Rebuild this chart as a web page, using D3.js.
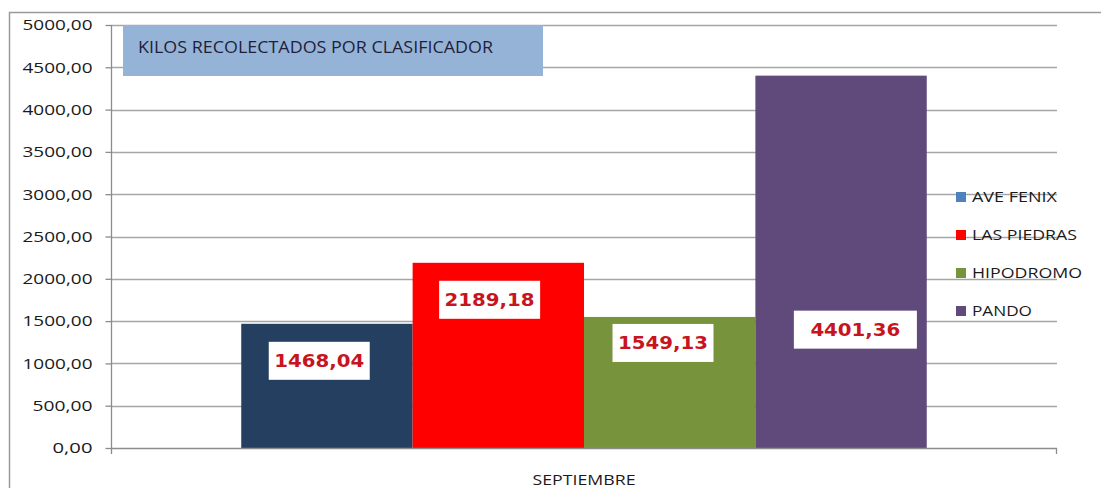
<!DOCTYPE html>
<html>
<head>
  <meta charset="utf-8" />
  <title>Kilos recolectados por clasificador</title>
  <script src="https://cdn.jsdelivr.net/npm/d3@7"></script>
  <style>
    body { margin: 0; background: #fff; }
    svg text { font-family: "Open Sans", sans-serif; }
  </style>
</head>
<body>
  <div id="chart"></div>
  <script type="text/javascript">

    // data
    var categories = ["SEPTIEMBRE"];
    var seriesNames = ["AVE FENIX", "LAS PIEDRAS", "HIPODROMO", "PANDO"];
    var values = [1468.04, 2189.18, 1549.13, 4401.36];
    var yTicks = [0, 500, 1000, 1500, 2000, 2500, 3000, 3500, 4000, 4500, 5000];
    var chartTitle = "KILOS RECOLECTADOS POR CLASIFICADOR";

    // styles
    var barColors = ["#243f60", "#ff0000", "#77933c", "#604a7b"];
    var legendColors = ["#4f81bd", "#ff0000", "#77933c", "#604a7b"];

    // where each value box sits (px from bar's left edge / below its top)
    var labelBoxes = [
      { cx: 78, dy: 37, w: 101 },
      { cx: 77, dy: 37, w: 101 },
      { cx: 79, dy: 26, w: 101 },
      { cx: 100, dy: 254, w: 123 }
    ];

    var W = 1101, H = 488;
    var plot = { left: 111, right: 1057, top: 25, bottom: 448 };

    var svg = d3.select("#chart").append("svg")
      .attr("width", W)
      .attr("height", H);

    var es = d3.formatLocale({ decimal: ",", thousands: ".", grouping: [3], currency: ["", ""] });
    var fmt = es.format(".2f");

    var y = d3.scaleLinear().domain([0, 5000]).range([plot.bottom, plot.top]);
    var x0 = d3.scaleBand().domain(categories)
      .range([plot.left, plot.right])
      .paddingInner(0).paddingOuter(0.19);
    var x1 = d3.scaleBand().domain(seriesNames)
      .range([0, x0.bandwidth()]);

    // outer chart frame
    svg.append("rect")
      .attr("x", 9.5).attr("y", 12.5)
      .attr("width", W + 10).attr("height", H + 10)
      .attr("fill", "none")
      .attr("stroke", "#9a9a9a")
      .attr("stroke-width", 1.5);

    // gridlines
    svg.append("g")
      .selectAll("line")
      .data(yTicks.filter(function (d) { return d > 0; }))
      .enter().append("line")
      .attr("x1", plot.left).attr("x2", plot.right)
      .attr("y1", function (d) { return Math.round(y(d)) + 0.5; })
      .attr("y2", function (d) { return Math.round(y(d)) + 0.5; })
      .attr("stroke", "#a6a6a6")
      .attr("stroke-width", 1.3);

    // y axis
    var yAxis = d3.axisLeft(y)
      .tickValues(yTicks)
      .tickSize(6)
      .tickPadding(13)
      .tickFormat(fmt);
    var gy = svg.append("g")
      .attr("transform", "translate(" + (plot.left + 0.5) + ",0)")
      .call(yAxis);
    gy.select(".domain").remove();
    gy.selectAll(".tick line").attr("stroke", "#8c8c8c").attr("stroke-width", 1.3);
    gy.selectAll(".tick text")
      .attr("font-family", "Open Sans, sans-serif")
      .attr("font-size", 15)
      .attr("fill", "#1a1a1a")
      .attr("textLength", function (d) { return fmt(d).length * 10; })
      .attr("lengthAdjust", "spacingAndGlyphs");
    svg.append("line")
      .attr("x1", plot.left + 0.5).attr("x2", plot.left + 0.5)
      .attr("y1", plot.top).attr("y2", plot.bottom + 6)
      .attr("stroke", "#8c8c8c").attr("stroke-width", 1.3);

    // bars
    var g = svg.append("g")
      .attr("transform", "translate(" + x0(categories[0]) + ",0)");

    g.selectAll("rect.bar")
      .data(values)
      .enter().append("rect")
      .attr("class", "bar")
      .attr("x", function (d, i) { return x1(seriesNames[i]); })
      .attr("width", x1.bandwidth())
      .attr("y", function (d) { return y(d); })
      .attr("height", function (d) { return y(0) - y(d); })
      .attr("fill", function (d, i) { return barColors[i]; });

    // x axis line
    svg.append("line")
      .attr("x1", plot.left).attr("x2", plot.right)
      .attr("y1", plot.bottom + 0.5).attr("y2", plot.bottom + 0.5)
      .attr("stroke", "#8c8c8c").attr("stroke-width", 1.3);
    svg.append("line")
      .attr("x1", plot.right - 0.5).attr("x2", plot.right - 0.5)
      .attr("y1", plot.bottom).attr("y2", plot.bottom + 6)
      .attr("stroke", "#8c8c8c").attr("stroke-width", 1.3);

    svg.append("text")
      .attr("x", x0(categories[0]) + x0.bandwidth() / 2)
      .attr("y", 485)
      .attr("text-anchor", "middle")
      .attr("font-size", 14)
      .attr("fill", "#1a1a1a")
      .attr("textLength", 103)
      .attr("lengthAdjust", "spacingAndGlyphs")
      .text(categories[0]);

    // value boxes
    var lab = g.selectAll("g.lab")
      .data(values)
      .enter().append("g")
      .attr("class", "lab")
      .attr("transform", function (d, i) {
        return "translate(" + (x1(seriesNames[i]) + labelBoxes[i].cx) + "," + (y(d) + labelBoxes[i].dy) + ")";
      });
    lab.append("rect")
      .attr("x", function (d, i) { return -labelBoxes[i].w / 2; })
      .attr("y", -19)
      .attr("width", function (d, i) { return labelBoxes[i].w; })
      .attr("height", 38)
      .attr("fill", "#fff");
    lab.append("text")
      .attr("x", 0)
      .attr("y", 0)
      .attr("dy", "0.36em")
      .attr("text-anchor", "middle")
      .style("font-family", "'DejaVu Sans', sans-serif")
      .attr("font-weight", "bold")
      .attr("font-size", 17)
      .attr("fill", "#c8141e")
      .attr("textLength", 90)
      .attr("lengthAdjust", "spacingAndGlyphs")
      .text(function (d) { return fmt(d); });

    // title box
    svg.append("rect")
      .attr("x", 123).attr("y", 25)
      .attr("width", 420).attr("height", 51)
      .attr("fill", "#95b3d7");
    svg.append("text")
      .attr("x", 138).attr("y", 53)
      .attr("font-size", 16)
      .attr("fill", "#1f1f3a")
      .attr("textLength", 355)
      .attr("lengthAdjust", "spacingAndGlyphs")
      .text(chartTitle);

    // legend
    var legendRows = [197, 235, 273, 311];
    var legendLen = [85, 105, 110, 60];
    var leg = svg.append("g").selectAll("g")
      .data(seriesNames)
      .enter().append("g")
      .attr("transform", function (d, i) { return "translate(956," + legendRows[i] + ")"; });
    leg.append("rect")
      .attr("x", 0).attr("y", -5)
      .attr("width", 10).attr("height", 10)
      .attr("fill", function (d, i) { return legendColors[i]; });
    leg.append("text")
      .attr("x", 16).attr("y", 0)
      .attr("dy", "0.36em")
      .attr("font-size", 15)
      .attr("fill", "#1a1a1a")
      .attr("textLength", function (d, i) { return legendLen[i]; })
      .attr("lengthAdjust", "spacingAndGlyphs")
      .text(function (d) { return d; });

  </script>
</body>
</html>
